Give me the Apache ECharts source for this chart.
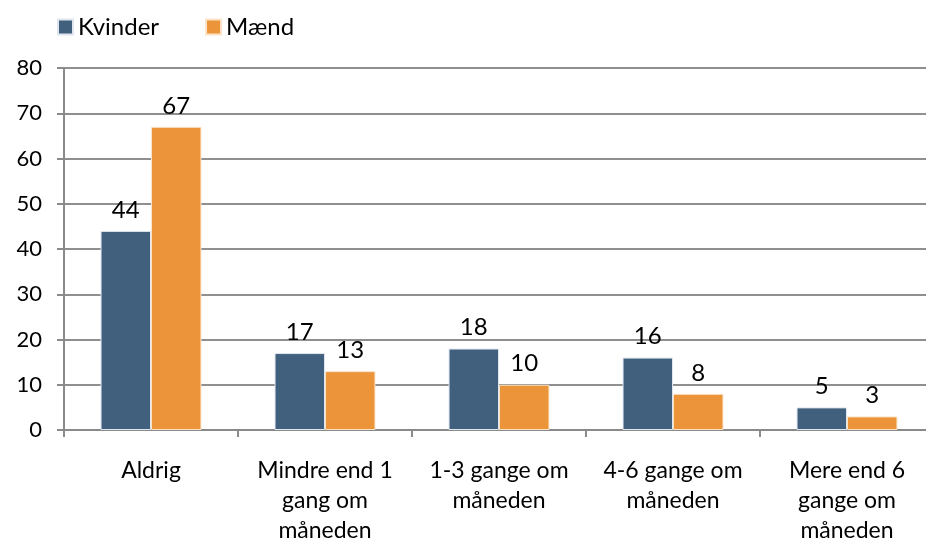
<!DOCTYPE html>
<html lang="da">
<head>
    <meta charset="utf-8" />
    <title>Kvinder og mænd</title>
    <script type="text/javascript" src="https://cdn.jsdelivr.net/npm/echarts@6/dist/echarts.min.js"></script>
</head>
<body style="margin:0;background-color:#fff">
    <div id="container" style="width:926px;height:545px;"></div>
</body>
</html>
<script type="text/javascript">
    var categories = ['Aldrig', 'Mindre end 1\ngang om\nmåneden', '1-3 gange om\nmåneden', '4-6 gange om\nmåneden', 'Mere end 6\ngange om\nmåneden'];
    var kvinder = [44, 17, 18, 16, 5];
    var maend = [67, 13, 10, 8, 3];
    var yTicks = { min: 0, max: 80, interval: 10 };

    var myChart = echarts.init(document.getElementById('container'));
    var fontFam = 'Lato, "Open Sans", sans-serif';

    var option = {
        backgroundColor: '#fff',
        textStyle: { fontFamily: fontFam },
        legend: {
            left: 52, top: 10,
            itemWidth: 15, itemHeight: 15, itemGap: 46,
            icon: 'rect',
            textStyle: { fontSize: 24, color: '#000', fontFamily: fontFam },
            data: ['Kvinder', 'Mænd']
        },
        grid: { left: 64, top: 68, width: 870, height: 362, outerBoundsMode: 'none', containLabel: false },
        xAxis: {
            type: 'category',
            data: categories,
            axisLine: { lineStyle: { color: '#8a8a8a', width: 2 } },
            axisTick: { show: true, length: 7, lineStyle: { color: '#8a8a8a', width: 2 } },
            axisLabel: { color: '#000', fontSize: 23, lineHeight: 30, margin: 26, interval: 0, fontFamily: fontFam }
        },
        yAxis: {
            type: 'value',
            min: yTicks.min, max: yTicks.max, interval: yTicks.interval,
            axisLine: { show: true, lineStyle: { color: '#8a8a8a', width: 2 } },
            axisTick: { show: true, length: 7, lineStyle: { color: '#8a8a8a', width: 2 } },
            splitLine: { lineStyle: { color: '#8f8f8f', width: 2 } },
            axisLabel: { color: '#000', fontSize: 22, margin: 22, fontFamily: fontFam }
        },
        series: [
            {
                name: 'Kvinder', type: 'bar', data: kvinder,
                barGap: '0%', barCategoryGap: '42%',
                itemStyle: { color: '#41607e', borderColor: '#dfe6ee', borderWidth: 1 },
                label: { show: true, position: 'top', distance: 9, color: '#000', fontSize: 24, fontFamily: fontFam }
            },
            {
                name: 'Mænd', type: 'bar', data: maend,
                itemStyle: { color: '#ec943a', borderColor: '#fbe3c8', borderWidth: 1 },
                label: { show: true, position: 'top', distance: 9, color: '#000', fontSize: 24, fontFamily: fontFam }
            }
        ]
    };
    myChart.setOption(option, true);
</script>
